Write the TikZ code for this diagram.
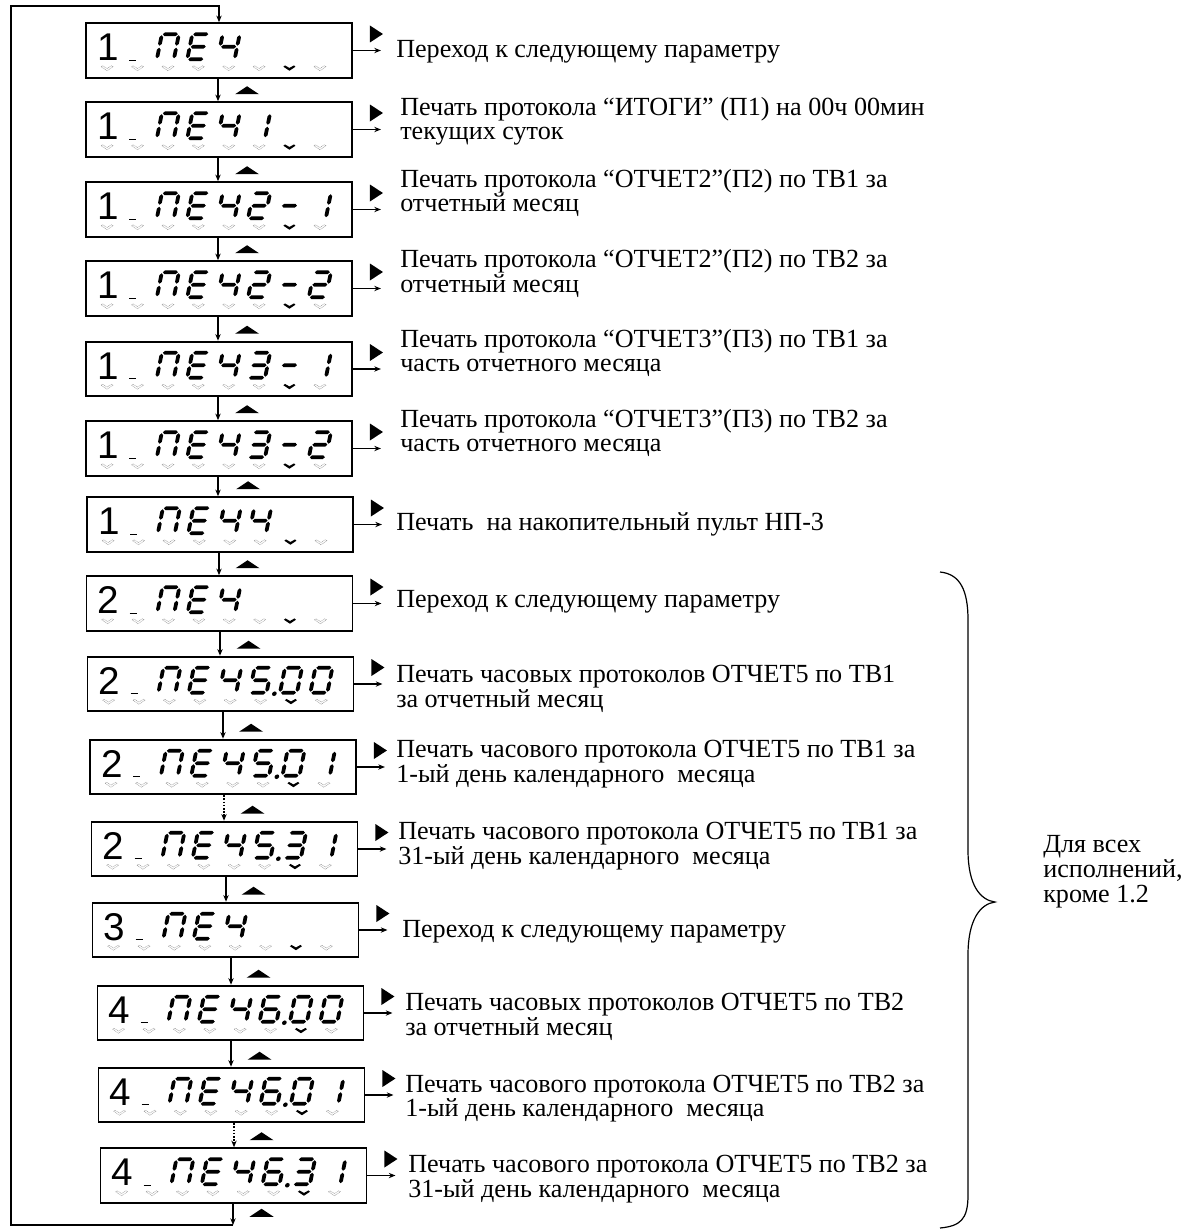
\documentclass[tikz,border=0pt]{standalone}
\usepackage{fontspec}
\setmainfont{Liberation Serif}
\newfontfamily\lcdfont{Liberation Sans}
\usetikzlibrary{arrows.meta,calc}

% seven-segment helpers (local px units, y down, baseline at 0)
\newcommand\hseg[3]{\fill (#1,#3) -- ({#1+1.9},{#3-1.9}) -- ({#2-1.9},{#3-1.9}) -- (#2,#3) -- ({#2-1.9},{#3+1.9}) -- ({#1+1.9},{#3+1.9}) -- cycle;}
\newcommand\vseg[3]{\fill (#1,#2) -- ({#1+1.9},{#2+1.9}) -- ({#1+1.9},{#3-1.9}) -- (#1,#3) -- ({#1-1.9},{#3-1.9}) -- ({#1-1.9},{#2+1.9}) -- cycle;}
\def\sdA{\hseg{1.0}{16.0}{-25}}
\def\sdB{\vseg{17}{-24.0}{-13.5}}
\def\sdC{\vseg{17}{-11.5}{-1.0}}
\def\sdD{\hseg{1.0}{16.0}{0}}
\def\sdE{\vseg{0}{-11.5}{-1.0}}
\def\sdF{\vseg{0}{-24.0}{-13.5}}
\def\sdG{\hseg{1.0}{16.0}{-12.5}}
\def\sdP{\fill (25,1) circle (2.3);}
\def\gsP{A,B,C,E,F}
\def\gsE{A,D,E,F,G}
\def\gsCh{B,C,F,G}
\def\gsone{B,C}
\def\gstwo{A,B,G,E,D}
\def\gsthree{A,B,G,C,D}
\def\gsfour{B,C,F,G}
\def\gsfive{A,F,G,C,D}
\def\gssix{A,F,G,E,D,C}
\def\gszero{A,B,C,D,E,F}
\def\gsdash{G}
\def\gsdot{P}
\newcommand\glyph[2]{%
  \begin{scope}[shift={({11+30.4*#1},37)},xslant=0.2]
    \edef\seglist{\csname gs#2\endcsname}%
    \foreach \s in \seglist {\csname sd\s\endcsname}%
  \end{scope}}
\newcommand\lcd[3]{%
  \begin{scope}[shift={(#1.north west)}]
    \node[bigdig] (#1d) at (23,38.5) {#2};
    \draw[line width=0.9pt] (44,38) -- (51,38);
    \foreach \i in {0,1,2,3,4,5,7} {\pic at ({22+30.4*\i},46) {hmark};}
    \pic at ({22+30.4*6},46) {bmark};
    \foreach \p/\g in {#3} {\glyph{\p}{\g}}
  \end{scope}}

\tikzset{
  lcdbox/.style={draw, line width=1.4pt, minimum width=199.5pt, minimum height=41pt, inner sep=0pt},
  bigdig/.style={font=\lcdfont\fontsize{29pt}{29pt}\selectfont, anchor=base, inner sep=0pt},
  desc/.style={font=\fontsize{19.6pt}{22pt}\selectfont, anchor=base west, inner sep=0pt},
  conn/.style={line width=1pt, -{Stealth[length=5pt,width=4pt]}},
  dotconn/.style={line width=1.6pt, dash pattern=on 1.2pt off 1.2pt, -{Stealth[length=5pt,width=4pt]}},
  loopline/.style={line width=1.4pt, line join=miter, -{Stealth[length=5pt,width=4pt]}},
  pics/hmark/.style={code={\draw[gray!80, line width=0.35pt, dash pattern=on 0.7pt off 0.5pt] (-6,-1.5) -- (0,2.5) -- (6,-1.5) -- (4.5,-2.5) -- (0,0.3) -- (-4.5,-2.5) -- cycle;}},
  pics/bmark/.style={code={\fill (-6,-1.5) -- (0,2.5) -- (6,-1.5) -- (4.5,-2.8) -- (0,-0.3) -- (-4.5,-2.8) -- cycle;}},
}

\begin{document}
\begin{tikzpicture}[x=0.75pt,y=-0.75pt]
\useasboundingbox (0,0) rectangle (1194,1231);

% display boxes
\node[lcdbox] (b1)  at (219,50.5) {};
\node[lcdbox] (b2)  at (219,129.5) {};
\node[lcdbox] (b3)  at (219,209.5) {};
\node[lcdbox] (b4)  at (219,288.5) {};
\node[lcdbox] (b5)  at (219,369) {};
\node[lcdbox] (b6)  at (219,448.5) {};
\node[lcdbox] (b7)  at (220,524.5) {};
\node[lcdbox] (b8)  at (219.5,603.5) {};
\node[lcdbox] (b9)  at (220.5,684) {};
\node[lcdbox] (b10) at (223,767) {};
\node[lcdbox] (b11) at (224.5,849) {};
\node[lcdbox] (b12) at (225.5,930) {};
\node[lcdbox] (b13) at (230.5,1013) {};
\node[lcdbox] (b14) at (231.5,1095) {};
\node[lcdbox] (b15) at (233.5,1175.5) {};

% display contents
\lcd{b1}{1}{2/P,3/E,4/Ch}
\lcd{b2}{1}{2/P,3/E,4/Ch,5/one}
\lcd{b3}{1}{2/P,3/E,4/Ch,5/two,6/dash,7/one}
\lcd{b4}{1}{2/P,3/E,4/Ch,5/two,6/dash,7/two}
\lcd{b5}{1}{2/P,3/E,4/Ch,5/three,6/dash,7/one}
\lcd{b6}{1}{2/P,3/E,4/Ch,5/three,6/dash,7/two}
\lcd{b7}{1}{2/P,3/E,4/Ch,5/four}
\lcd{b8}{2}{2/P,3/E,4/Ch}
\lcd{b9}{2}{2/P,3/E,4/Ch,5/five,5/dot,6/zero,7/zero}
\lcd{b10}{2}{2/P,3/E,4/Ch,5/five,5/dot,6/zero,7/one}
\lcd{b11}{2}{2/P,3/E,4/Ch,5/five,5/dot,6/three,7/one}
\lcd{b12}{3}{2/P,3/E,4/Ch}
\lcd{b13}{4}{2/P,3/E,4/Ch,5/six,5/dot,6/zero,7/zero}
\lcd{b14}{4}{2/P,3/E,4/Ch,5/six,5/dot,6/zero,7/one}
\lcd{b15}{4}{2/P,3/E,4/Ch,5/six,5/dot,6/three,7/one}

% right-hand arrows and triangles
\foreach \b in {b1,b2,b3,b4,b5,b6,b7,b8,b9,b10,b11,b12,b13,b14,b15}{
  \fill ($(\b.east)+(17,-25)$) -- ($(\b.east)+(17,-8)$) -- ($(\b.east)+(30,-16.5)$) -- cycle;
  \draw[conn] (\b.east) -- ($(\b.east)+(28,0)$);
}
% up triangles
\foreach \b in {b2,b3,b4,b5,b6,b7,b8,b9,b10,b11,b12,b13,b14,b15}{
  \fill ($(\b.north west)+(162,-15)$) -- ($(\b.north west)+(174,-7)$) -- ($(\b.north west)+(150,-7)$) -- cycle;
}
\fill ($(b15.south west)+(162,5)$) -- ($(b15.south west)+(174,13)$) -- ($(b15.south west)+(150,13)$) -- cycle;

% vertical connectors
\coordinate (ax1) at (218,0);
\coordinate (ax7) at (219,0);
\coordinate (ax8) at (220,0);
\coordinate (ax9) at (223,0);
\coordinate (ax10) at (224,0);
\coordinate (ax11) at (226,0);
\coordinate (ax12) at (231,0);
\coordinate (ax14) at (234,0);
\draw[conn] (b1.south -| ax1) -- (b2.north -| ax1);
\draw[conn] (b2.south -| ax1) -- (b3.north -| ax1);
\draw[conn] (b3.south -| ax1) -- (b4.north -| ax1);
\draw[conn] (b4.south -| ax1) -- (b5.north -| ax1);
\draw[conn] (b5.south -| ax1) -- (b6.north -| ax1);
\draw[conn] (b6.south -| ax1) -- (b7.north -| ax1);
\draw[conn] (b7.south -| ax7) -- (b8.north -| ax7);
\draw[conn] (b8.south -| ax8) -- (b9.north -| ax8);
\draw[conn] (b9.south -| ax9) -- (b10.north -| ax9);
\draw[dotconn] (b10.south -| ax10) -- (b11.north -| ax10);
\draw[conn] (b11.south -| ax11) -- (b12.north -| ax11);
\draw[conn] (b12.south -| ax12) -- (b13.north -| ax12);
\draw[conn] (b13.south -| ax12) -- (b14.north -| ax12);
\draw[dotconn] (b14.south -| ax14) -- (b15.north -| ax14);

% return loop
\coordinate (lpB) at (233,1225);
\coordinate (lpBL) at (11,1225);
\coordinate (lpTL) at (11,6);
\coordinate (lpT) at (219,6);
\draw[conn] (b15.south -| lpB) -- (lpB);
\draw[loopline] (lpB) -- (lpBL) -- (lpTL) -- (lpT) -- (b1.north -| lpT);

% descriptions
\node[desc] (t1)  at (396,58) {Переход к следующему параметру};
\node[desc] (t2a) at (400,115) {Печать протокола “ИТОГИ” (П1) на 00ч 00мин};
\node[desc] (t2b) at (400,139) {текущих суток};
\node[desc] (t3a) at (400,187) {Печать протокола “ОТЧЕТ2”(П2) по ТВ1 за};
\node[desc] (t3b) at (400,211) {отчетный месяц};
\node[desc] (t4a) at (400,267) {Печать протокола “ОТЧЕТ2”(П2) по ТВ2 за};
\node[desc] (t4b) at (400,292) {отчетный месяц};
\node[desc] (t5a) at (400,347) {Печать протокола “ОТЧЕТ3”(П3) по ТВ1 за};
\node[desc] (t5b) at (400,371) {часть отчетного месяца};
\node[desc] (t6a) at (400,427) {Печать протокола “ОТЧЕТ3”(П3) по ТВ2 за};
\node[desc] (t6b) at (400,451) {часть отчетного месяца};
\node[desc] (t7)  at (396,530) {Печать~ на накопительный пульт НП-3};
\node[desc] (t8)  at (396,607) {Переход к следующему параметру};
\node[desc] (t9a) at (396,682) {Печать часовых протоколов ОТЧЕТ5 по ТВ1};
\node[desc] (t9b) at (396,707) {за отчетный месяц};
\node[desc] (t10a) at (396,757) {Печать часового протокола ОТЧЕТ5 по ТВ1 за};
\node[desc] (t10b) at (396,782) {1-ый день календарного~ месяца};
\node[desc] (t11a) at (398,839) {Печать часового протокола ОТЧЕТ5 по ТВ1 за};
\node[desc] (t11b) at (398,864) {31-ый день календарного~ месяца};
\node[desc] (t12) at (402,937) {Переход к следующему параметру};
\node[desc] (t13a) at (405,1010) {Печать часовых протоколов ОТЧЕТ5 по ТВ2};
\node[desc] (t13b) at (405,1035) {за отчетный месяц};
\node[desc] (t14a) at (405,1092) {Печать часового протокола ОТЧЕТ5 по ТВ2 за};
\node[desc] (t14b) at (405,1116) {1-ый день календарного~ месяца};
\node[desc] (t15a) at (408,1172) {Печать часового протокола ОТЧЕТ5 по ТВ2 за};
\node[desc] (t15b) at (408,1197) {31-ый день календарного~ месяца};

% brace and its note
\draw[line width=0.9pt] (940,572) .. controls (960,574) and (968,590) .. (968,620)
  -- (968,850) .. controls (968,885) and (980,900) .. (995,902)
  .. controls (980,904) and (968,920) .. (968,955)
  -- (968,1195) .. controls (968,1220) and (960,1226) .. (940,1228);
\node[desc] (n1) at (1043,852) {Для всех};
\node[desc] (n2) at (1043,877) {исполнений,};
\node[desc] (n3) at (1043,902) {кроме 1.2};
\end{tikzpicture}
\end{document}
